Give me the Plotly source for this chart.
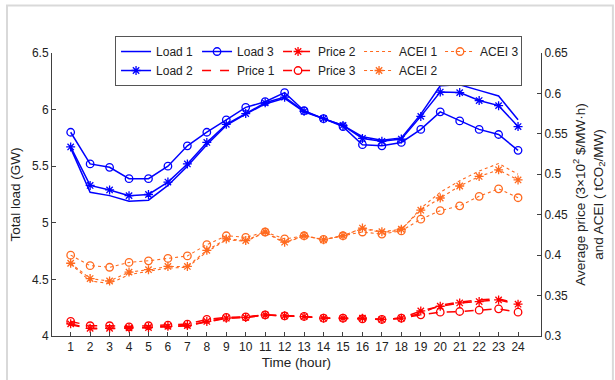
import plotly.graph_objects as go

hours = list(range(1, 25))
load1 = [5.66, 5.27, 5.24, 5.19, 5.20, 5.33, 5.50, 5.69, 5.86, 5.96, 6.05, 6.10,
         5.98, 5.92, 5.86, 5.76, 5.73, 5.75, 5.96, 6.21, 6.22, 6.17, 6.12, 5.91]
load2 = [5.67, 5.33, 5.29, 5.24, 5.25, 5.36, 5.52, 5.71, 5.87, 5.965, 6.06, 6.11,
         5.985, 5.92, 5.86, 5.745, 5.72, 5.74, 5.94, 6.155, 6.15, 6.08, 6.035, 5.85]
load3 = [5.80, 5.52, 5.49, 5.39, 5.39, 5.50, 5.68, 5.80, 5.91, 6.02, 6.07, 6.15,
         5.99, 5.92, 5.85, 5.69, 5.68, 5.71, 5.825, 5.98, 5.90, 5.825, 5.78, 5.64]
price1 = [0.314, 0.309, 0.309, 0.3098, 0.310, 0.3114, 0.3127, 0.3172, 0.322, 0.323, 0.326, 0.325,
          0.324, 0.322, 0.322, 0.3213, 0.3205, 0.322, 0.328, 0.338, 0.342, 0.3446, 0.346, 0.340]
price2 = [0.315, 0.3095, 0.3095, 0.310, 0.3105, 0.312, 0.313, 0.318, 0.322, 0.323, 0.326, 0.325,
          0.324, 0.322, 0.322, 0.322, 0.3205, 0.322, 0.331, 0.3368, 0.3409, 0.3426, 0.3446, 0.3393]
price3 = [0.318, 0.3127, 0.3127, 0.3114, 0.3127, 0.3135, 0.3147, 0.3205, 0.323, 0.3237, 0.3262, 0.325,
          0.3242, 0.322, 0.322, 0.3213, 0.3205, 0.322, 0.3262, 0.3295, 0.3303, 0.332, 0.3336, 0.3295]
acei1 = [0.389, 0.368, 0.365, 0.376, 0.380, 0.384, 0.385, 0.404, 0.419, 0.417, 0.428, 0.415,
         0.424, 0.419, 0.424, 0.433, 0.428, 0.431, 0.458, 0.4777, 0.492, 0.504, 0.5133, 0.500]
acei2 = [0.390, 0.371, 0.368, 0.379, 0.382, 0.386, 0.386, 0.406, 0.420, 0.418, 0.4286, 0.416,
         0.424, 0.419, 0.424, 0.4335, 0.429, 0.432, 0.4556, 0.4707, 0.4855, 0.4973, 0.5055, 0.493]
acei3 = [0.400, 0.387, 0.385, 0.391, 0.393, 0.396, 0.399, 0.413, 0.424, 0.422, 0.4286, 0.420,
         0.424, 0.4195, 0.424, 0.4286, 0.426, 0.430, 0.4445, 0.455, 0.461, 0.4728, 0.482, 0.471]

left_ticks = [4, 4.5, 5, 5.5, 6, 6.5]
left_labels = ["4", "4.5", "5", "5.5", "6", "6.5"]
right_ticks = [0.3, 0.35, 0.4, 0.45, 0.5, 0.55, 0.6, 0.65]
right_labels = ["0.3", "0.35", "0.4", "0.45", "0.5", "0.55", "0.6", "0.65"]

BLUE = "#0000FF"
RED = "#FF0000"
ORANGE = "#FF6A1F"
FONT = "Liberation Sans, Arial, sans-serif"

fig = go.Figure()

def add(name, y, color, dash, symbol, axis, rank, lw=1.5):
    mode = "lines+markers" if symbol else "lines"
    marker = dict(symbol=symbol, size=7.5, color=color, line=dict(color=color, width=1.3)) if symbol else None
    fig.add_trace(go.Scatter(
        x=hours, y=y, name=name, mode=mode, yaxis=axis,
        line=dict(color=color, width=lw, dash=dash),
        marker=marker, legendrank=rank,
    ))

add("Load 1", load1, BLUE, "solid", None, "y", 1)
add("Load 2", load2, BLUE, "solid", "asterisk-open", "y", 6)
add("Load 3", load3, BLUE, "solid", "circle-open", "y", 2)
add("Price 1", price1, RED, "dash", None, "y2", 7)
add("Price 2", price2, RED, "dash", "asterisk-open", "y2", 3)
add("Price 3", price3, RED, "dash", "circle-open", "y2", 8)
add("ACEI 1", acei1, ORANGE, "dot", None, "y2", 4, 1.1)
add("ACEI 2", acei2, ORANGE, "dot", "asterisk-open", "y2", 9, 1.1)
add("ACEI 3", acei3, ORANGE, "dot", "circle-open", "y2", 5, 1.1)

AX = "#404040"
fig.update_layout(
    width=615, height=380,
    margin=dict(l=52, r=74, t=53, b=42),
    paper_bgcolor="white", plot_bgcolor="white",
    font=dict(family=FONT, size=12, color="#222"),
    xaxis=dict(
        range=[0.04, 25.18], tickvals=hours, ticktext=[str(h) for h in hours],
        showline=True, linecolor=AX, linewidth=1, ticks="inside", ticklen=4, tickcolor=AX,
        showgrid=False, zeroline=False,
        title=dict(text="Time (hour)", font=dict(size=13.5), standoff=4),
    ),
    yaxis=dict(
        range=[4, 6.5], tickvals=left_ticks, ticktext=left_labels,
        showline=True, linecolor=AX, linewidth=1, ticks="inside", ticklen=4, tickcolor=AX,
        showgrid=False, zeroline=False,
        title=dict(text="Total load (GW)", font=dict(size=13.5), standoff=8),
    ),
    yaxis2=dict(
        range=[0.3, 0.65], tickvals=right_ticks, ticktext=right_labels,
        overlaying="y", side="right",
        showline=True, linecolor=AX, linewidth=1, ticks="inside", ticklen=4, tickcolor=AX,
        showgrid=False, zeroline=False,
        title=dict(text="Average price (3×10<sup>2</sup> $/MW·h)<br>and ACEI ( tCO<sub>2</sub>/MW)",
                   font=dict(size=13.5), standoff=8),
    ),
    legend=dict(
        orientation="h", x=0.135, y=1.06, xanchor="left", yanchor="top",
        bgcolor="white", bordercolor="#555", borderwidth=1,
        font=dict(size=12), entrywidth=36, entrywidthmode="pixels",
        tracegroupgap=0, itemwidth=30,
    ),
    showlegend=True,
    shapes=[dict(type="rect", xref="paper", yref="paper",
                 x0=-0.092, x1=1.147, y0=-0.2, y1=1.168,
                 line=dict(color="#d9d9d9", width=2), layer="below")],
)

fig.write_html("out.html")
